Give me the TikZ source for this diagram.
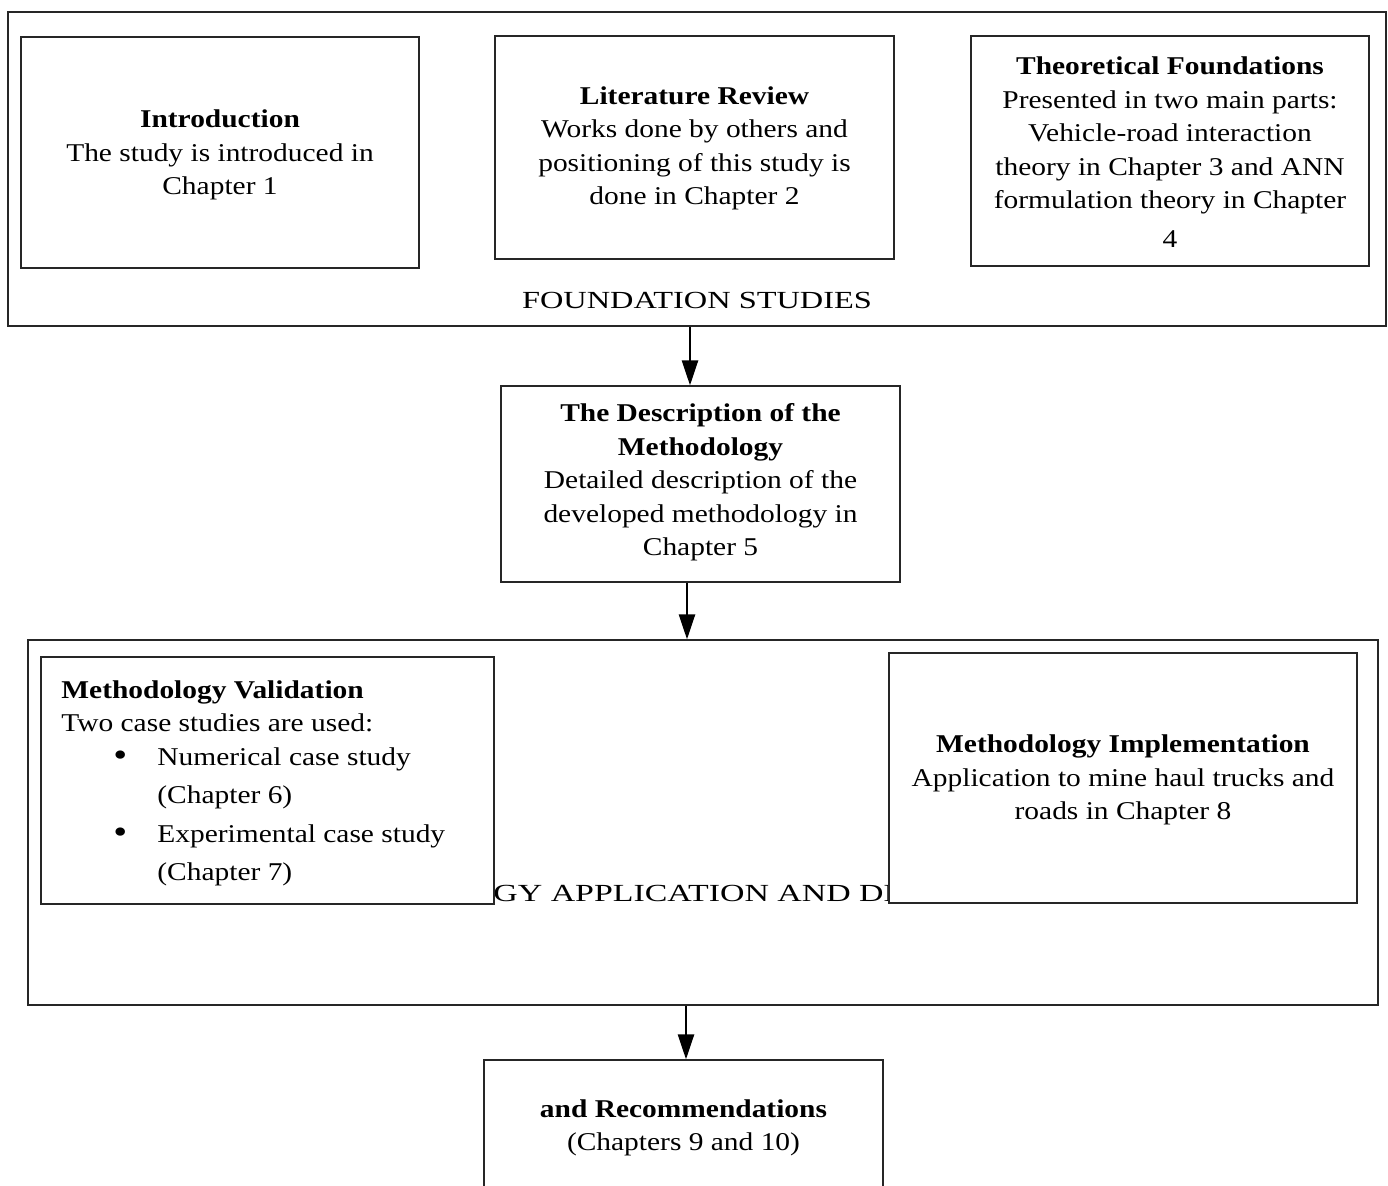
\documentclass[tikz,border=0pt]{standalone}
\usepackage{graphicx}
\usepackage{fontspec}
\setmainfont{Liberation Serif}[FakeStretch=1.15]
\usetikzlibrary{arrows.meta}

\begin{document}
\begin{tikzpicture}[
  x=0.5pt, y=-0.5pt,
  font=\fontsize{12.8}{16.75}\selectfont,
  box/.style={draw=black!85, line width=0.6pt, fill=white, inner sep=0pt, rectangle},
  txt/.style={inner sep=0pt, align=center, anchor=base},
  flow/.style={line width=1.3pt, -{Triangle[length=12.5pt,width=8pt]}},
  grouplabel/.style={inner sep=0pt}
]
\clip (0,0) rectangle (1388,1186);
\useasboundingbox (0,0) rectangle (1388,1186);
\fill[white] (0,0) rectangle (1388,1186);

% text nodes are anchored at the baseline of their last line

% ---- foundation group ----
\node[box, minimum width=689pt, minimum height=157pt] (found) at (697,169) {};
\node[grouplabel, anchor=base] (foundlbl) at (697,309) {\scalebox{1.1}[0.96]{FOUNDATION STUDIES}};

\node[box, minimum width=199pt, minimum height=115.5pt] (intro) at (220,152.5) {};
\node[txt] (introtxt) at (220,195) {\textbf{Introduction}\\The study is introduced in\\Chapter 1};

\node[box, minimum width=199.5pt, minimum height=111.5pt] (lit) at (694.5,147.5) {};
\node[txt] (littxt) at (694.5,205) {\textbf{Literature Review}\\Works done by others and\\positioning of this study is\\done in Chapter 2};

\node[box, minimum width=199pt, minimum height=115pt] (theo) at (1170,151) {};
\node[txt] (theotxt) at (1170,248) {\textbf{Theoretical Foundations}\\Presented in two main parts:\\Vehicle-road interaction\\theory in Chapter 3 and ANN\\formulation theory in Chapter\\[2.75pt]4};

% ---- methodology description ----
\node[box, minimum width=199.5pt, minimum height=98pt] (desc) at (700.5,484) {};
\node[txt] (desctxt) at (700.5,556) {\textbf{The Description of the}\\\textbf{Methodology}\\Detailed description of the\\developed methodology in\\Chapter 5};

% ---- application group ----
\node[box, minimum width=675pt, minimum height=182.5pt] (app) at (703,822.5) {};
\node[grouplabel, anchor=base west] (applbl) at (493,902) {\scalebox{1.15}[0.96]{GY APPLICATION AND DE}};

\node[box, minimum width=226.5pt, minimum height=123.5pt] (valid) at (267.5,780.5) {};
\node[inner sep=0pt, anchor=base west, align=left] (validtxt) at (61,881)
  {\textbf{Methodology Validation}\\
   Two case studies are used:\\
   \makebox[48pt][l]{\hspace*{29.5pt}\makebox[0pt]{\raisebox{-0.4pt}{\scalebox{1.35}{\textbullet}}}}Numerical case study\\[2.5pt]
   \hspace*{48pt}(Chapter 6)\\[2.5pt]
   \makebox[48pt][l]{\hspace*{29.5pt}\makebox[0pt]{\raisebox{-0.4pt}{\scalebox{1.35}{\textbullet}}}}Experimental case study\\[2.5pt]
   \hspace*{48pt}(Chapter 7)};

\node[box, minimum width=234pt, minimum height=125pt] (impl) at (1123,778) {};
\node[txt] (impltxt) at (1123,820) {\textbf{Methodology Implementation}\\Application to mine haul trucks and\\roads in Chapter 8};

% ---- conclusions ----
\node[box, minimum width=199.5pt, minimum height=66pt] (concl) at (683.5,1126) {};
\node[txt] (concltxt) at (683.5,1151) {\textbf{and Recommendations}\\(Chapters 9 and 10)};

% ---- flow arrows ----
\draw[flow] ([xshift=-3.5pt]found.south) -- ([xshift=-3.5pt]found.south |- desc.north);
\draw[flow] ([xshift=-6.75pt]desc.south) -- ([xshift=-6.75pt]desc.south |- app.north);
\draw[flow] ([xshift=-8.5pt]app.south) -- ([xshift=-8.5pt]app.south |- concl.north);
\end{tikzpicture}
\end{document}
